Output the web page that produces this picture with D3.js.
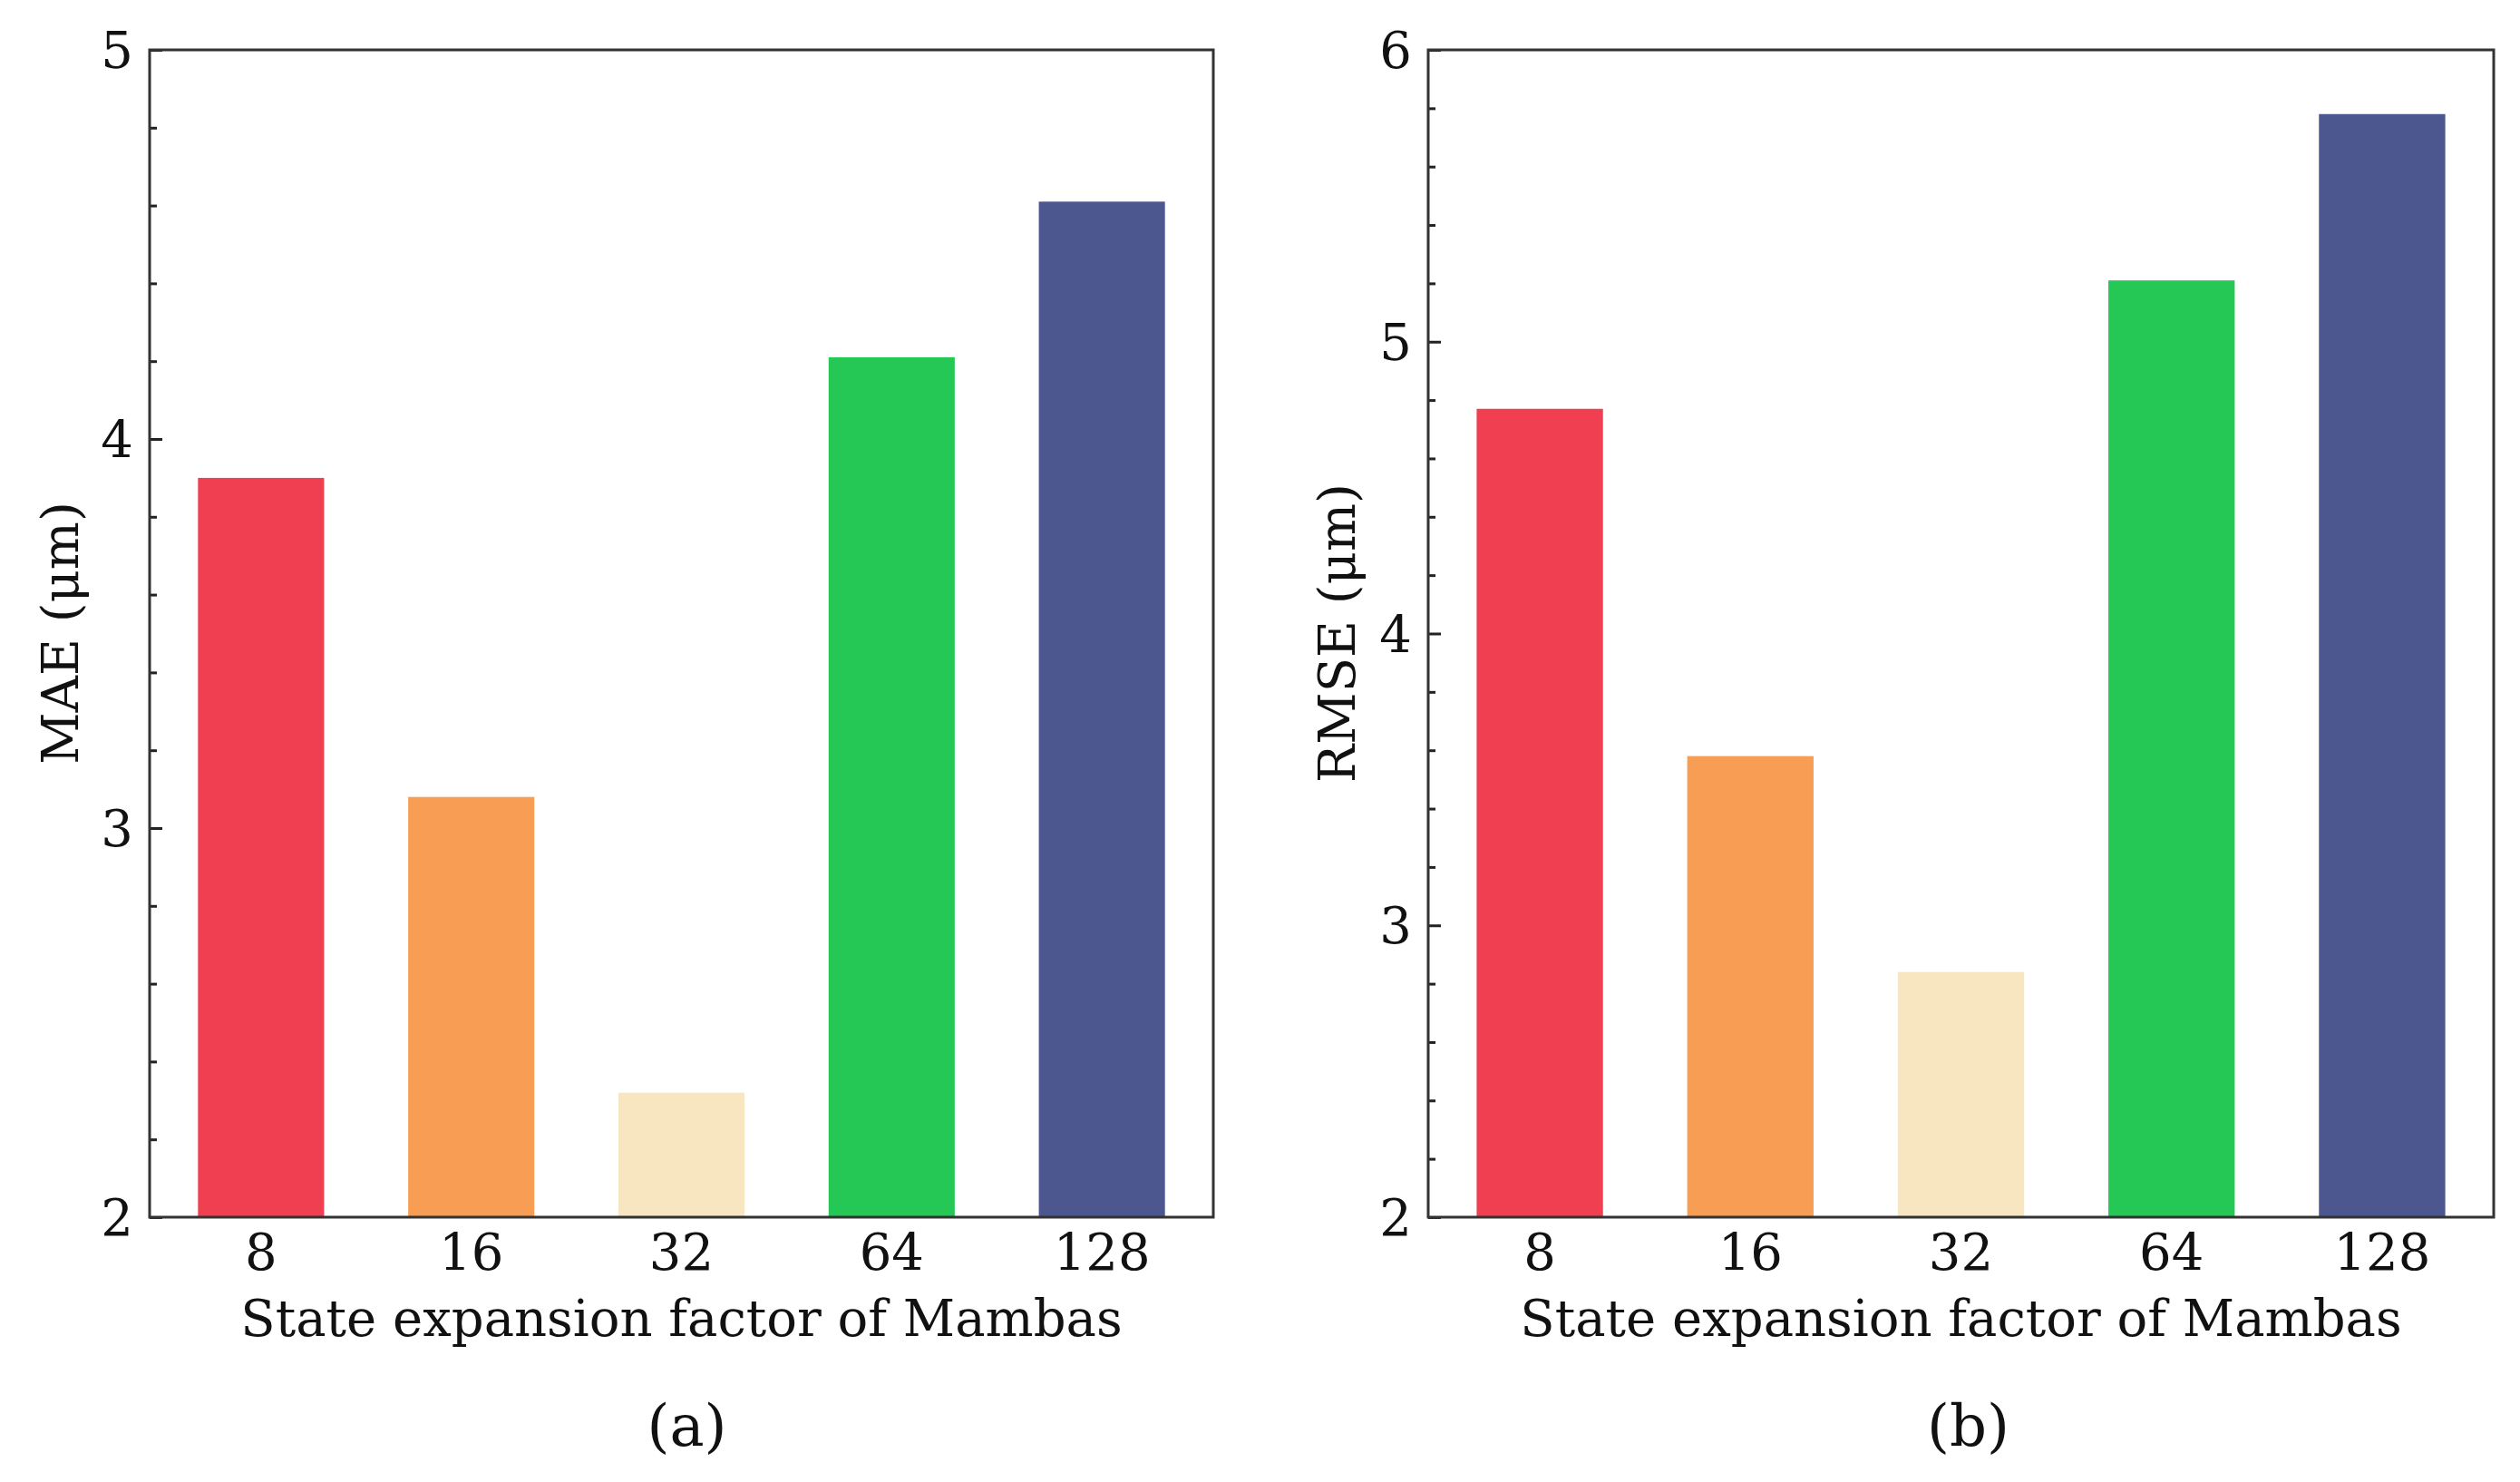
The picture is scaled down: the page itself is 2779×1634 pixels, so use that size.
<!DOCTYPE html>
<html>
<head>
<meta charset="utf-8">
<script src="https://cdn.jsdelivr.net/npm/d3@7"></script>
<style>
  body { margin: 0; background: #fff; }
  text { font-family: "DejaVu Serif", serif; fill: #111; }
</style>
</head>
<body>
<script>
// data
var categories = ["8", "16", "32", "64", "128"];
var maeValues = [3.90, 3.08, 2.32, 4.21, 4.61];
var rmseValues = [4.77, 3.58, 2.84, 5.21, 5.78];
var barColors = ["#EF3F51", "#F89E54", "#F8E6C1", "#26C855", "#4D578F"];
var maeTicks = [2, 3, 4, 5];
var rmseTicks = [2, 3, 4, 5, 6];

var width = 2779;
var height = 1634;
var fontSize = 56;

var svg = d3.select("body")
            .append("svg")
            .attr("width", width)
            .attr("height", height);

function drawPanel(opts) {
    var x = d3.scaleLinear()
              .domain([-0.53, 4.53])
              .range([opts.left, opts.right]);
    var y = d3.scaleLinear()
              .domain(opts.domain)
              .range([1342, 55]);
    var barW = x(0.6) - x(0);

    var g = svg.append("g");

    // bars
    g.selectAll("rect.bar")
        .data(opts.values)
        .enter()
            .append("rect")
            .attr("class", "bar")
            .attr("x", function(d, i){ return x(i) - barW / 2; })
            .attr("width", barW)
            .attr("y", function(d){ return y(d); })
            .attr("height", function(d){ return y(opts.domain[0]) - y(d); })
            .attr("fill", function(d, i){ return barColors[i]; });

    // left axis: ticks pointing inward, minor every 0.2
    var major = d3.axisRight(y)
                  .tickValues(opts.ticks)
                  .tickSize(14)
                  .tickFormat("");
    var minorVals = d3.range(opts.domain[0] * 5, opts.domain[1] * 5 + 1)
                      .map(function(v){ return v / 5; })
                      .filter(function(v){ return Math.abs(v - Math.round(v)) > 1e-6; });
    var minor = d3.axisRight(y)
                  .tickValues(minorVals)
                  .tickSize(8)
                  .tickFormat("");

    [major, minor].forEach(function(ax){
        var a = g.append("g")
                 .attr("transform", "translate(" + opts.left + ",0)")
                 .call(ax);
        a.select(".domain").remove();
        a.selectAll("line").attr("stroke", "#222").attr("stroke-width", 3);
    });

    // y tick labels
    g.selectAll("text.ytick")
        .data(opts.ticks)
        .enter()
            .append("text")
            .attr("class", "ytick")
            .attr("x", opts.left - 18)
            .attr("y", function(d){ return y(d); })
            .attr("dy", "0.36em")
            .attr("text-anchor", "end")
            .attr("font-size", fontSize)
            .text(function(d){ return d; });

    // x tick labels
    g.selectAll("text.xtick")
        .data(categories)
        .enter()
            .append("text")
            .attr("class", "xtick")
            .attr("x", function(d, i){ return x(i); })
            .attr("y", 1400)
            .attr("text-anchor", "middle")
            .attr("font-size", fontSize)
            .text(function(d){ return d; });

    // frame
    g.append("rect")
        .attr("x", opts.left)
        .attr("y", 55)
        .attr("width", opts.right - opts.left)
        .attr("height", 1342 - 55)
        .attr("fill", "none")
        .attr("stroke", "#333")
        .attr("stroke-width", 3);

    var cx = (opts.left + opts.right) / 2;

    g.append("text")
        .attr("x", cx)
        .attr("y", 1473)
        .attr("text-anchor", "middle")
        .attr("font-size", fontSize)
        .text("State expansion factor of Mambas");

    g.append("text")
        .attr("transform", "translate(" + opts.ylabelX + ",698) rotate(-90)")
        .attr("text-anchor", "middle")
        .attr("font-size", fontSize)
        .text(opts.ylabel);

    g.append("text")
        .attr("x", cx + opts.capShift)
        .attr("y", 1594)
        .attr("text-anchor", "middle")
        .attr("font-size", 64)
        .text(opts.caption);
}

drawPanel({left: 165, right: 1338, domain: [2, 5], values: maeValues, ticks: maeTicks,
           ylabel: "MAE (μm)", ylabelX: 86, caption: "(a)", capShift: 6});
drawPanel({left: 1575, right: 2750, domain: [2, 6], values: rmseValues, ticks: rmseTicks,
           ylabel: "RMSE (μm)", ylabelX: 1494, caption: "(b)", capShift: 8});
</script>
</body>
</html>
